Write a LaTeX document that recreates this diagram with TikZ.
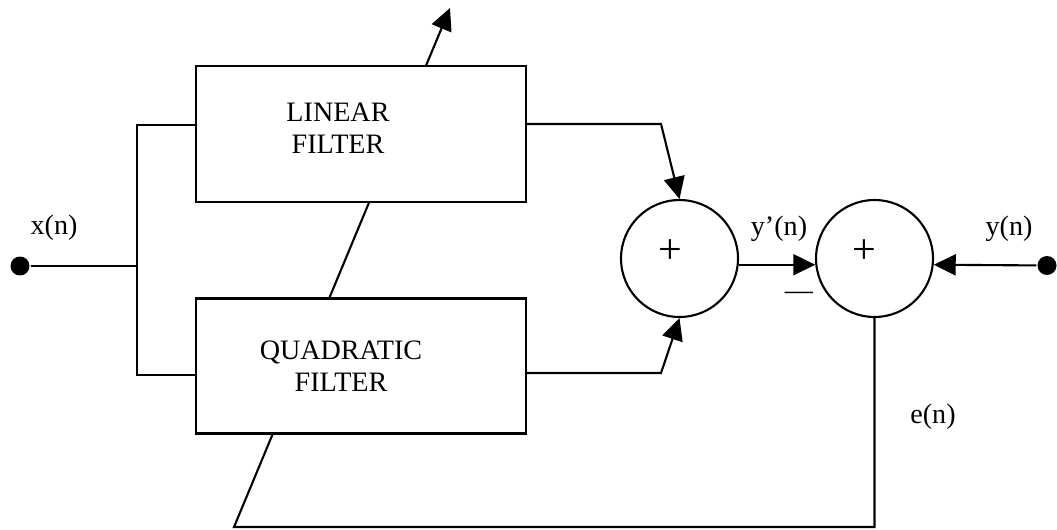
\documentclass[tikz,border=0pt]{standalone}
\usepackage{fontspec}
\setmainfont{Liberation Serif}
\usetikzlibrary{arrows.meta, positioning}

\begin{document}
\begin{tikzpicture}[
  x=0.02cm, y=-0.02cm,
  line width=1.2pt,
  font=\fontsize{16}{18}\selectfont,
  box/.style={rectangle, draw, fill=white, minimum width=6.6cm, minimum height=2.72cm},
  boxtext/.style={align=center, inner sep=0pt},
  sumnode/.style={circle, draw, minimum size=2.34cm, inner sep=0pt},
  plus/.style={font=\fontsize{24}{24}\selectfont, inner sep=0pt},
  dot/.style={circle, fill, minimum size=0.38cm, inner sep=0pt},
  arr/.style={-{Triangle[length=0.44cm, width=0.42cm]}},
]
  \useasboundingbox (0,0) rectangle (1057,530);

  % Summing junctions and terminals
  \node[sumnode, label={[plus, xshift=-0.18cm, yshift=0.13cm]center:+}] (sum1) at (679.5,258.5) {};
  \node[sumnode, label={[plus, xshift=-0.2cm, yshift=0.13cm]center:+}] (sum2) at (874.5,258.5) {};
  \node[dot] (xin) at (20,266) {};
  \node[dot] (yin) at (1047,265.5) {};

  % Adaptation path, the filter boxes are drawn over it
  \coordinate (fb) at (234,527);
  \coordinate (adapt) at (450,8);
  \draw[arr] (sum2.south) |- (fb) -- (adapt);

  % Filters
  \node[box, label={[boxtext, xshift=-0.46cm, yshift=0.12cm]center:LINEAR\\FILTER}] (lin) at (361,134) {};
  \node[box, minimum height=2.7cm, label={[boxtext, xshift=-0.4cm]center:QUADRATIC\\FILTER}] (quad) at (361,366) {};

  % Arrows
  \coordinate (br) at (137,266);
  \draw (xin) -- (br);
  \draw ([yshift=0.18cm]lin.west) -| (br) |- ([yshift=-0.18cm]quad.west);
  \draw[arr] ([yshift=0.2cm]lin.east) -- ++(134,0) -- (sum1.north);
  \draw[arr] ([yshift=-0.14cm]quad.east) -- ++(134,0) -- (sum1.south);
  \draw[arr] (sum1.-6) -- (sum2.186);
  \draw[arr] (yin) -- (sum2.-6);

  % Labels
  \node (xlab) at (54,228) {x(n)};
  \node (yplab) at (779,229) {y'(n)};
  \node (ylab) at (1009,229) {y(n)};
  \node (elab) at (933,417) {e(n)};
  \node (minus) at (799,296) {\textemdash};
\end{tikzpicture}
\end{document}
